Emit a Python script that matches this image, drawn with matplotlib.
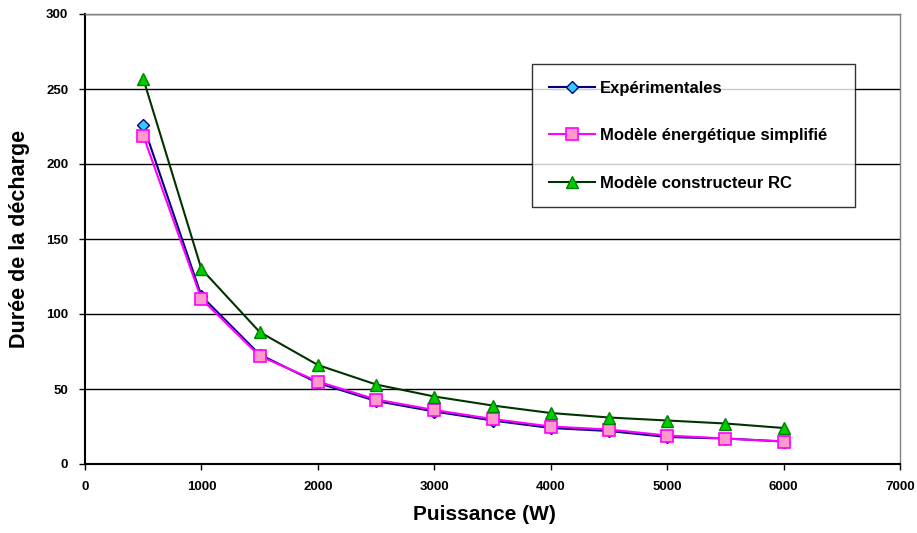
import matplotlib
matplotlib.use("Agg")
import matplotlib.pyplot as plt

plt.rcParams['font.family'] = ['Liberation Sans', 'DejaVu Sans']

# Data
puissance = [500, 1000, 1500, 2000, 2500, 3000, 3500, 4000, 4500, 5000, 5500, 6000]
experimentales = [226, 112, 73, 54, 42, 35, 29, 24, 22, 18, 17, 15]
modele_simplifie = [219, 110, 72, 55, 43, 36, 30, 25, 23, 19, 17, 15]
modele_rc = [257, 130, 88, 66, 53, 45, 39, 34, 31, 29, 27, 24]

W, H = 917, 533
fig = plt.figure(figsize=(W / 100, H / 100), dpi=100)
ax = fig.add_axes([85 / W, 69 / H, 815 / W, 450 / H])

ax.plot(puissance, experimentales, color='#000080', lw=1.5, marker='D', ms=6.5,
        mfc='#33CCFF', mec='#000080', mew=1, label='Expérimentales')
ax.plot(puissance, modele_simplifie, color='#FF00FF', lw=1.5, marker='s', ms=8,
        mfc='#FF99CC', mec='#FF00FF', mew=1.2, label='Modèle énergétique simplifié')
ax.plot(puissance, modele_rc, color='#003300', lw=1.5, marker='^', ms=9,
        mfc='#00CC00', mec='#008000', mew=1, label='Modèle constructeur RC')

ax.set_xlim(0, 7000)
ax.set_ylim(0, 300)
ax.set_xticks(range(0, 7001, 1000))
ax.set_yticks(range(0, 301, 50))
ax.yaxis.grid(True, color='black', lw=1)
ax.set_axisbelow(True)

for s in ['left', 'bottom']:
    ax.spines[s].set_color('black')
    ax.spines[s].set_linewidth(1.5)
for s in ['top', 'right']:
    ax.spines[s].set_color('#808080')
    ax.spines[s].set_linewidth(1)

ax.tick_params(direction='out', length=4, width=1, labelsize=9.5, pad=8)
for lbl in ax.get_xticklabels() + ax.get_yticklabels():
    lbl.set_fontweight('bold')

ax.set_xlabel('Puissance (W)', fontsize=15, fontweight='bold')
ax.set_ylabel('Durée de la décharge', fontsize=15.5, fontweight='bold')
ax.xaxis.set_label_coords(0.49, -0.09)
ax.yaxis.set_label_coords(-0.067, 0.5)

leg = ax.legend(loc='upper left',
                bbox_to_anchor=(532 / W, 1 - 204 / H, 323 / W, 140 / H),
                bbox_transform=fig.transFigure, mode='expand',
                prop={'weight': 'bold', 'size': 12}, frameon=True, fancybox=False,
                borderpad=1.0, labelspacing=1.95, handlelength=2.8, handletextpad=0.25,
                borderaxespad=0)
leg.get_frame().set_edgecolor('black')
leg.get_frame().set_linewidth(1)

fig.savefig('out.png', dpi=100)
